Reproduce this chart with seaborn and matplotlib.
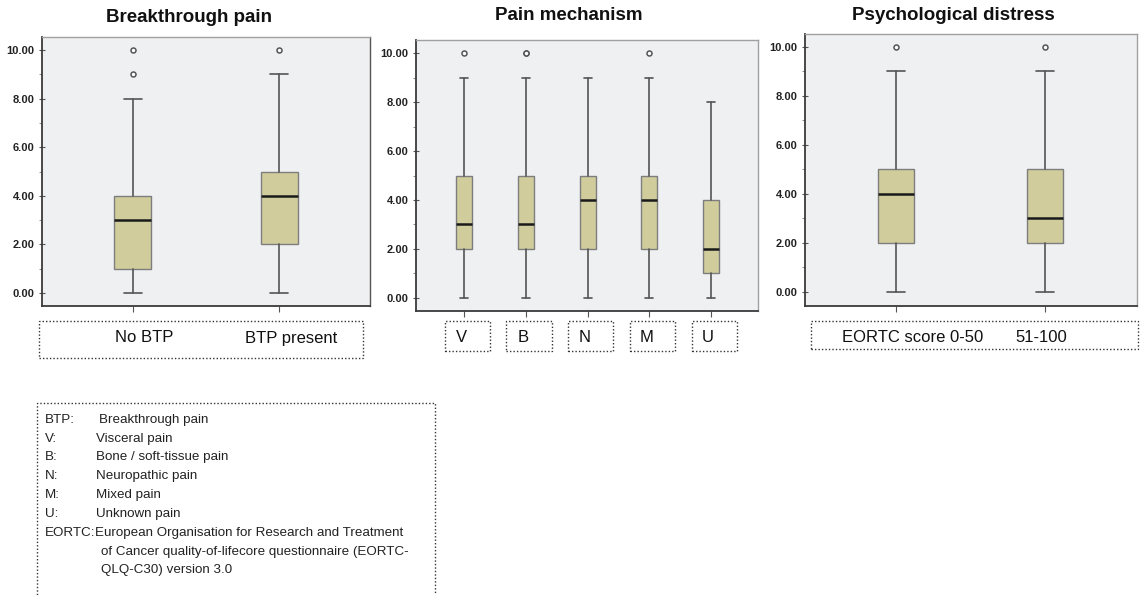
import matplotlib
matplotlib.use("Agg")
import matplotlib.pyplot as plt
import seaborn as sns
from matplotlib.patches import Rectangle
from matplotlib.transforms import blended_transform_factory
from matplotlib.ticker import MultipleLocator, FormatStrFormatter

# ---- data: box-plot summaries (0-10 pain score) ----
btp_groups = ["No BTP", "BTP present"]
btp_whislo = [0, 0]
btp_q1 = [1, 2]
btp_med = [3, 4]
btp_q3 = [4, 5]
btp_whishi = [8, 9]
btp_fliers = [[9, 10], [10]]

mech_groups = ["V", "B", "N", "M", "U"]
mech_whislo = [0, 0, 0, 0, 0]
mech_q1 = [2, 2, 2, 2, 1]
mech_med = [3, 3, 4, 4, 2]
mech_q3 = [5, 5, 5, 5, 4]
mech_whishi = [9, 9, 9, 9, 8]
mech_fliers = [[10], [10, 10], [], [10], []]

psy_groups = ["EORTC score 0-50", "51-100"]
psy_whislo = [0, 0]
psy_q1 = [2, 2]
psy_med = [4, 3]
psy_q3 = [5, 5]
psy_whishi = [9, 9]
psy_fliers = [[10], [10]]

titles = ["Breakthrough pain", "Pain mechanism", "Psychological distress"]

legend_keys = ["BTP:", "V:", "B:", "N:", "M:", "U:", "EORTC:"]
legend_defs = [
    "Breakthrough pain",
    "Visceral pain",
    "Bone / soft-tissue pain",
    "Neuropathic pain",
    "Mixed pain",
    "Unknown pain",
    "European Organisation for Research and Treatment\n"
    "of Cancer quality-of-lifecore questionnaire (EORTC-\n"
    "QLQ-C30) version 3.0",
]

# ---- style ----
sns.set_theme(style="ticks")
plt.rcParams["font.family"] = ["Liberation Sans", "DejaVu Sans"]
plt.rcParams["text.color"] = "#111111"

W, H = 1142, 595
fig = plt.figure(figsize=(W / 100, H / 100), dpi=100)
fig.patch.set_facecolor("white")


def fx(px):
    return px / W


def fy(py):
    return 1 - py / H


def add_axes_px(left, top, right, bottom):
    return fig.add_axes([fx(left), fy(bottom), fx(right) - fx(left), (bottom - top) / H])


BOX_FACE = "#d1cc9b"
BOX_EDGE = "#7d7d7d"
WHISK = "#555555"
AX_BG = "#eff0f2"


def make_stats(labels, lo, q1, med, q3, hi, fl):
    return [
        dict(label=l, whislo=a, q1=b, med=c, q3=d, whishi=e, fliers=f)
        for l, a, b, c, d, e, f in zip(labels, lo, q1, med, q3, hi, fl)
    ]


def draw_panel(ax, stats, width, xlim, ylim, right_dark=False):
    n = len(stats)
    pos = list(range(n))
    ax.set_facecolor(AX_BG)
    ax.bxp(
        stats,
        positions=pos,
        widths=width,
        capwidths=width / 2,
        patch_artist=True,
        showfliers=True,
        boxprops=dict(facecolor=BOX_FACE, edgecolor=BOX_EDGE, linewidth=1.0),
        medianprops=dict(color="#1a1a1a", linewidth=1.8),
        whiskerprops=dict(color=WHISK, linewidth=1.2),
        capprops=dict(color=WHISK, linewidth=1.2),
        flierprops=dict(marker="o", markersize=3.6, markerfacecolor="white",
                        markeredgecolor="#555555", markeredgewidth=1.1, linestyle="none"),
    )
    ax.set_xlim(*xlim)
    ax.set_ylim(*ylim)
    ax.yaxis.set_major_locator(MultipleLocator(2))
    ax.yaxis.set_minor_locator(MultipleLocator(1))
    ax.yaxis.set_major_formatter(FormatStrFormatter("%.2f"))
    ax.set_xticks(pos)
    ax.set_xticklabels([])
    ax.tick_params(axis="y", which="major", direction="inout", length=5, width=0.8,
                   color="#555555", labelsize=8, pad=3)
    ax.tick_params(axis="y", which="minor", direction="out", length=2.5, width=0.6,
                   color="#777777")
    ax.tick_params(axis="x", direction="out", length=4, width=0.8, color="#555555")
    for lab in ax.get_yticklabels():
        lab.set_fontweight("bold")
        lab.set_color("#222222")
    for side in ("left", "bottom"):
        ax.spines[side].set_color("#3a3a3a")
        ax.spines[side].set_linewidth(1.3)
    ax.spines["top"].set_color("#a0a0a0")
    ax.spines["top"].set_linewidth(1.0)
    ax.spines["right"].set_color("#555555" if right_dark else "#a0a0a0")
    ax.spines["right"].set_linewidth(1.0)
    ax.grid(False)
    return pos


def dotted_box_px(x0, y0, x1, y1):
    r = Rectangle((fx(x0), fy(y1)), fx(x1) - fx(x0), (y1 - y0) / H,
                  transform=fig.transFigure, fill=False, edgecolor="#333333",
                  linewidth=1.0, linestyle=(0, (1, 1.5)), clip_on=False)
    fig.add_artist(r)


LABEL_FS = 12
LABEL_Y = fy(338)
TITLE_FS = 13.5

# ---- panel 1: breakthrough pain ----
ax1 = add_axes_px(42, 37, 370, 306)
p1 = draw_panel(ax1, make_stats(btp_groups, btp_whislo, btp_q1, btp_med, btp_q3,
                                btp_whishi, btp_fliers),
                0.25, (-0.62, 1.62), (-0.53, 10.53), right_dark=True)
fig.text(fx(189), fy(17), titles[0], ha="center", va="center", fontsize=TITLE_FS,
         fontweight="bold")
dotted_box_px(39, 321, 363, 358)
tr1 = blended_transform_factory(ax1.transData, fig.transFigure)
for p, lab in zip(p1, btp_groups):
    fig.text(p + 0.08, LABEL_Y, lab, transform=tr1, ha="center", va="center",
             fontsize=LABEL_FS)

# ---- panel 2: pain mechanism ----
ax2 = add_axes_px(416, 40, 758, 311)
p2 = draw_panel(ax2, make_stats(mech_groups, mech_whislo, mech_q1, mech_med, mech_q3,
                                mech_whishi, mech_fliers),
                0.26, (-0.78, 4.76), (-0.55, 10.55))
fig.text(fx(569), fy(16), titles[1], ha="center", va="center", fontsize=TITLE_FS,
         fontweight="bold")
tr2 = blended_transform_factory(ax2.transData, fig.transFigure)
for p, lab in zip(p2, mech_groups):
    r = Rectangle((p + 0.05 - 0.365, fy(351)), 0.73, 30 / H, transform=tr2, fill=False,
                  edgecolor="#333333", linewidth=1.0, linestyle=(0, (1, 1.5)), clip_on=False)
    fig.add_artist(r)
    fig.text(p - 0.05, LABEL_Y, lab, transform=tr2, ha="center", va="center",
             fontsize=LABEL_FS)

# ---- panel 3: psychological distress ----
ax3 = add_axes_px(805, 34, 1137, 306)
p3 = draw_panel(ax3, make_stats(psy_groups, psy_whislo, psy_q1, psy_med, psy_q3,
                                psy_whishi, psy_fliers),
                0.24, (-0.61, 1.62), (-0.58, 10.53))
fig.text(fx(953), fy(16), titles[2], ha="center", va="center", fontsize=TITLE_FS,
         fontweight="bold")
dotted_box_px(811, 321, 1138, 349)
tr3 = blended_transform_factory(ax3.transData, fig.transFigure)
for p, dx, lab in zip(p3, [0.11, -0.02], psy_groups):
    fig.text(p + dx, fy(337), lab, transform=tr3, ha="center", va="center",
             fontsize=LABEL_FS)

# ---- abbreviation key ----
dotted_box_px(37, 403, 435, 600)
KEY_FS = 9.6
key_y = [420, 439, 457, 476, 495, 514, 533]
def_x = [99, 96, 96, 96, 96, 96, 95]
for y, k, d, x in zip(key_y, legend_keys, legend_defs, def_x):
    fig.text(fx(45), fy(y), k, ha="left", va="center", fontsize=KEY_FS, color="#222222")
    lines = d.split("\n")
    for i, line in enumerate(lines):
        xx = x if i == 0 else 101
        fig.text(fx(xx), fy(y + 18.5 * i), line, ha="left", va="center",
                 fontsize=KEY_FS, color="#222222")

fig.savefig("out.png", dpi=100, facecolor="white")
